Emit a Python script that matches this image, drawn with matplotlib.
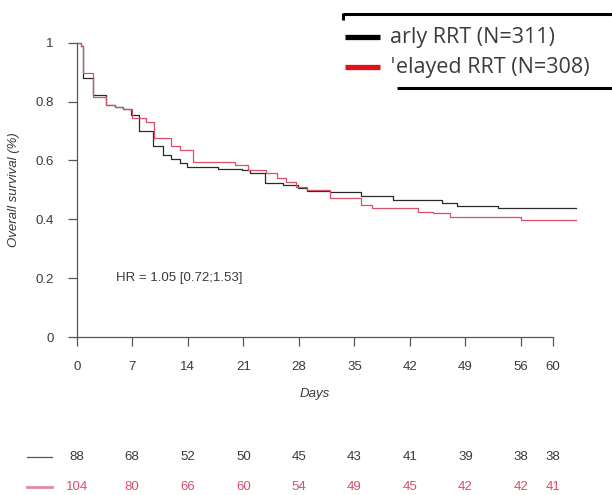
import matplotlib
matplotlib.use("Agg")
import matplotlib.pyplot as plt
from matplotlib.transforms import blended_transform_factory

# Kaplan-Meier step points (day, survival) for each arm
early_days = [0, 0.6, 0.8, 2.0, 3.7, 4.8, 5.8, 6.9, 7.9, 9.6, 10.9, 11.9, 13.0, 13.9,
              17.8, 20.8, 21.8, 23.7, 26.0, 27.9, 29.0, 31.9, 35.9, 39.9, 46.0, 48.0,
              53.1, 63.0]
early_surv = [1.0, 0.99, 0.88, 0.823, 0.79, 0.782, 0.775, 0.755, 0.70, 0.648, 0.619,
              0.604, 0.592, 0.579, 0.571, 0.567, 0.556, 0.522, 0.517, 0.505, 0.497,
              0.491, 0.48, 0.466, 0.457, 0.446, 0.438, 0.438]

delayed_days = [0, 0.6, 0.8, 2.0, 3.7, 4.8, 5.8, 7.0, 8.7, 9.8, 11.9, 13.0, 14.7,
                19.9, 21.6, 23.9, 25.2, 26.4, 27.7, 29.0, 31.9, 35.9, 37.2, 43.0, 44.9,
                47.0, 56.0, 63.0]
delayed_surv = [1.0, 0.99, 0.898, 0.817, 0.79, 0.782, 0.775, 0.745, 0.73, 0.677, 0.65,
                0.636, 0.593, 0.585, 0.568, 0.556, 0.539, 0.528, 0.511, 0.501, 0.473,
                0.449, 0.439, 0.426, 0.42, 0.409, 0.396, 0.396]

risk_days = [0, 7, 14, 21, 28, 35, 42, 49, 56, 60]
early_risk = [88, 68, 52, 50, 45, 43, 41, 39, 38, 38]
delayed_risk = [104, 80, 66, 60, 54, 49, 45, 42, 42, 41]

legend_labels = ["arly RRT (N=311)", "\u02c8elayed RRT (N=308)"]
hr_text = "HR = 1.05 [0.72;1.53]"

plt.rcParams["font.family"] = ["Liberation Sans", "DejaVu Sans"]

W, H = 612, 495
fig = plt.figure(figsize=(W / 100, H / 100), dpi=100)

x0, y0 = 76.7, 337.0          # pixel position of (0, 0)
px_day, px_unit = 7.933, 294.3
xmax, ymax = 64.0, 1.02
ax = fig.add_axes([x0 / W, (H - y0) / H, xmax * px_day / W, ymax * px_unit / H])

black = "#2a2a2a"
red = "#d8506a"
axis_grey = "#555555"
txt_grey = "#3a3a3a"

ax.step(early_days, early_surv, where="post", color=black, lw=0.9)
ax.step(delayed_days, delayed_surv, where="post", color=red, lw=0.9)

ax.set_xlim(0, xmax)
ax.set_ylim(0, ymax)
for s in ["top", "right"]:
    ax.spines[s].set_visible(False)
ax.spines["left"].set_bounds(0, 1)
ax.spines["bottom"].set_bounds(0, 60)
for s in ["left", "bottom"]:
    ax.spines[s].set_color(axis_grey)
    ax.spines[s].set_linewidth(0.9)

ax.set_xticks(risk_days)
ax.set_xticklabels([str(d) for d in risk_days])
ax.set_yticks([0, 0.2, 0.4, 0.6, 0.8, 1.0])
ax.set_yticklabels(["0", "0.2", "0.4", "0.6", "0.8", "1"])
ax.tick_params(axis="both", direction="out", length=6.5, width=0.9, color=axis_grey,
               labelcolor=txt_grey, labelsize=9.5)
ax.tick_params(axis="x", pad=11)
ax.tick_params(axis="y", pad=10)

ax.text(5, 0.2, hr_text, fontsize=9.5, color=txt_grey, va="center", ha="left")

fig.text(30.0 * px_day / W + x0 / W, 1 - 394 / H, "Days", style="italic",
         fontsize=9.5, color=txt_grey, ha="center", va="center")
fig.text(14 / W, 1 - 190 / H, "Overall survival (%)", style="italic", rotation=90,
         fontsize=9.5, color=txt_grey, ha="center", va="center")

# numbers at risk under the axis
trans = blended_transform_factory(ax.transData, fig.transFigure)
for vals, col, ypix in [(early_risk, txt_grey, 457), (delayed_risk, red, 487)]:
    for d, v in zip(risk_days, vals):
        ax.text(d, 1 - ypix / H, str(v), transform=trans, ha="center", va="center",
                fontsize=9.5, color=col, clip_on=False)
fig.add_artist(plt.Line2D([27 / W, 52 / W], [1 - 457 / H] * 2, color="#555555", lw=0.9))
fig.add_artist(plt.Line2D([27 / W, 52 / W], [1 - 487 / H] * 2, color="#e08aa0", lw=2.0))

# boxed legend in the top right corner
fig.add_artist(plt.Line2D([343 / W, 1.0], [1 - 14 / H] * 2, color="black", lw=2.2,
                          solid_capstyle="butt"))
fig.add_artist(plt.Line2D([343 / W, 343 / W], [1 - 13 / H, 1 - 20 / H], color="black",
                          lw=2.2, solid_capstyle="butt"))
fig.add_artist(plt.Line2D([397 / W, 1.0], [1 - 88 / H] * 2, color="black", lw=2.2,
                          solid_capstyle="butt"))
for lab, col, ypix in zip(legend_labels, ["#000000", "#e0101a"], [37, 67]):
    fig.add_artist(plt.Line2D([345 / W, 380 / W], [1 - ypix / H] * 2, color=col,
                              lw=3.8, solid_capstyle="butt"))
    fig.text(390 / W, 1 - ypix / H, lab, fontsize=15.5, color="#3c3c3c",
             family=["Open Sans", "DejaVu Sans"], ha="left", va="center")

fig.savefig("out.png", dpi=100)
